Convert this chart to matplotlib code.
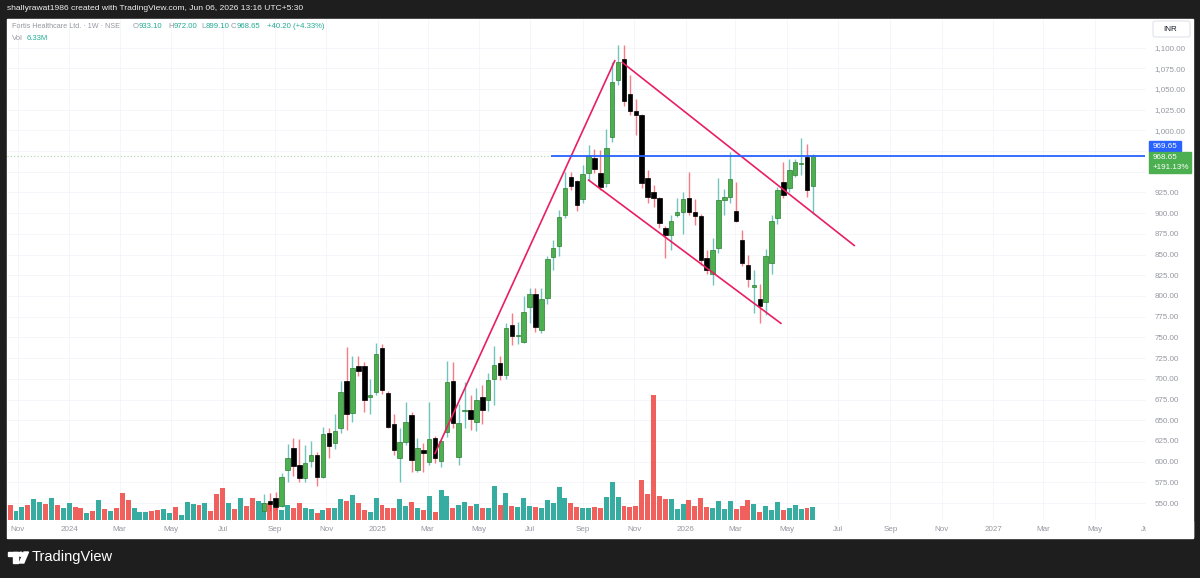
import matplotlib
matplotlib.use('Agg')
import matplotlib.pyplot as plt
import matplotlib.dates as mdates
import matplotlib.patches as mpatches
from matplotlib.ticker import FuncFormatter
import numpy as np
import pandas as pd

plt.rcParams['font.family'] = ['Liberation Sans', 'DejaVu Sans']

W, H = 1200, 578

# weekly bars (Monday of each week)
dates = pd.date_range('2023-10-23', '2026-06-01', freq='W-MON')

# volume in millions, one per week
volume = [7.5, 4.7, 6.5, 7.5, 10.5, 9.0, 8.0, 11.1, 7.5, 5.8,
          8.3, 6.6, 5.8, 3.7, 4.3, 9.8, 5.3, 4.3, 6.1, 13.5,
          9.8, 6.1, 4.0, 4.0, 4.7, 5.0, 5.3, 3.7, 6.6, 2.7,
          9.0, 8.0, 7.5, 8.3, 4.7, 13.1, 16.1, 8.3, 5.3, 11.1,
          7.1, 10.8, 9.3,
          8.6, 8.6, 6.1, 5.0, 7.5, 6.1, 8.3, 6.1, 5.3, 3.7,
          5.0, 5.8, 5.8, 10.5, 9.6, 12.5, 8.3, 4.8, 4.2, 11.1,
          7.5, 6.1, 5.8, 10.5, 7.1, 8.8, 6.1, 4.8, 12.1, 4.2,
          15.0, 12.1, 5.8, 7.5, 9.1, 7.1, 8.0,
          6.1, 6.1, 17.0, 7.5, 13.3, 7.1, 6.5, 11.1, 6.8, 6.5, 6.1, 10.1,
          8.3, 16.6, 11.1, 8.3, 6.6, 5.8, 6.1, 6.3, 6.1, 11.3,
          19.1, 11.3, 7.1, 6.6, 7.1, 19.9, 12.8, 62.6, 12.0, 10.5,
          10.5, 5.5, 8.1, 9.8, 6.8, 11.1, 6.5, 6.1, 9.5, 5.5,
          9.5, 5.5, 6.8, 9.8, 8.1, 4.2, 7.1, 5.1, 8.8, 4.8,
          5.8, 7.5, 5.5, 6.1, 6.33]

# up/down of the early weeks whose candles sit below the visible price range
early_dir = "dttdttdtdttddtdtdtdddtttddttdtttdtdddtdtddt"

# OHLC of the weeks from 2024-08-19 on
opens = [540, 552, 556, 547, 590, 617, 596, 580, 601, 608,
         581, 634, 622, 640, 697, 659, 715, 715, 678, 684,
         737, 683, 646, 604, 624, 656, 590, 614, 600, 629,
         601, 636, 697, 605, 661, 662, 648, 678, 674, 700,
         719, 704, 765, 752, 745, 787, 803, 759, 797, 847,
         860, 898, 944, 939, 917, 948, 967, 949, 936, 992,
         1061, 1086, 1044, 1023, 1019, 942, 926, 918, 882, 874,
         898, 902, 918, 902, 897, 846, 827, 858, 916, 920,
         903, 868, 837, 811, 796, 793, 840, 894, 938, 930,
         946, 959, 968, 933.10]
highs = [561, 562, 563, 586, 621, 628, 627, 620, 625, 612,
         642, 641, 657, 697, 738, 728, 728, 720, 700, 743,
         742, 685, 657, 640, 672, 660, 628, 622, 672, 631,
         626, 722, 720, 669, 696, 680, 689, 692, 707, 740,
         728, 767, 779, 768, 800, 810, 810, 810, 848, 868,
         904, 950, 950, 940, 958, 982, 977, 976, 1002, 1083,
         1103, 1103, 1067, 1038, 1020, 952, 934, 919, 884, 898,
         918, 925, 950, 917, 899, 856, 870, 942, 929, 974,
         938, 880, 849, 831, 814, 857, 898, 932, 962, 966,
         966, 991, 984, 972.00]
lows = [535, 540, 541, 545, 575, 583, 575, 575, 594, 571,
        580, 604, 615, 635, 638, 648, 703, 660, 658, 680,
        682, 640, 608, 575, 620, 588, 588, 588, 596, 598,
        594, 630, 640, 596, 640, 638, 637, 646, 661, 668,
        698, 700, 741, 742, 743, 767, 757, 755, 790, 831,
        848, 894, 928, 903, 912, 940, 949, 928, 932, 986,
        1055, 1030, 1019, 995, 930, 912, 907, 882, 846, 856,
        895, 875, 898, 886, 838, 827, 813, 852, 898, 912,
        889, 836, 811, 779, 767, 777, 827, 887, 918, 926,
        944, 946, 920, 899.10]
closes = [550, 549, 545, 582, 604, 595, 580, 598, 608, 581,
          633, 619, 637, 684, 657, 713, 710, 675, 680, 730,
          686, 642, 614, 624, 648, 602, 617, 611, 627, 604,
          625, 696, 647, 647, 662, 652, 675, 662, 699, 717,
          705, 761, 752, 753, 781, 803, 763, 796, 845, 858,
          896, 931, 933, 910, 947, 969, 953, 932, 979, 1059,
          1083, 1036, 1023, 1019, 936, 920, 918, 888, 874, 890,
          902, 917, 902, 897, 844, 831, 855, 916, 920, 941,
          891, 840, 821, 813, 788, 848, 890, 928, 922, 952,
          962, 961, 928.45, 968.65]

# drawn trend lines ((date, price), (date, price))
trend_lines = [(('2025-03-10', 610), ('2025-10-09', 1084)),
               (('2025-10-18', 1082), ('2026-07-20', 861)),
               (('2025-09-08', 940), ('2026-04-24', 767))]
level_price = 969.65
level_start = '2025-07-26'
last_price = 968.65

UP, DOWN = '#4caf50', '#000000'
UP_WICK, DOWN_WICK = '#26a69a', '#f23645'
VOL_UP, VOL_DOWN = '#26a69a', '#ef5350'
PINK = '#e91e63'
GRAY = '#9598a1'
TEAL = '#22ab94'


def rect(x0, y0, x1, y1):
    return [x0 / W, 1 - y1 / H, (x1 - x0) / W, (y1 - y0) / H]


fig = plt.figure(figsize=(W / 100, H / 100), dpi=100, facecolor='#1e1e1e')

bg = fig.add_axes([0, 0, 1, 1], zorder=0)
bg.set_xlim(0, W)
bg.set_ylim(H, 0)
bg.axis('off')
bg.add_patch(mpatches.Rectangle((6.5, 19), 1193 - 6.5, 538 - 19, color='white'))

plot_rect = rect(6.5, 19, 1146, 520)
ax_grid = fig.add_axes(plot_rect, zorder=1)
ax_vol = fig.add_axes(plot_rect, zorder=2, sharex=ax_grid)
ax = fig.add_axes(plot_rect, zorder=3, sharex=ax_grid, sharey=ax_grid)
for a in (ax_grid, ax_vol, ax):
    a.set_facecolor('none')
    for s in a.spines.values():
        s.set_visible(False)

x_all = mdates.date2num(dates)
n_early = len(early_dir)
x_vis = x_all[n_early:]
o, h, l, c = (np.array(v, dtype=float) for v in (opens, highs, lows, closes))
up = c >= o

# volume
vol_up = [d == 't' for d in early_dir] + list(up)
ax_vol.bar(x_all, volume, width=5.9, color=[VOL_UP if u else VOL_DOWN for u in vol_up],
           alpha=0.92, linewidth=0)
ax_vol.set_ylim(0, 250)
ax_vol.set_yticks([])
ax_vol.tick_params(axis='x', length=0, labelbottom=False)

# candles
ax.vlines(x_vis, l, h, colors=[UP_WICK if u else DOWN_WICK for u in up], lw=1.0, alpha=0.65, zorder=2)
body_lo = np.minimum(o, c)
body_h = np.maximum(np.abs(c - o), 1.2)
ax.bar(x_vis, body_h, bottom=body_lo, width=5.3,
       color=[UP if u else DOWN for u in up],
       edgecolor=['#2e7d32' if u else '#000000' for u in up], linewidth=0.5, zorder=3)

# lines
for (d0, p0), (d1, p1) in trend_lines:
    ax.plot(mdates.date2num(pd.to_datetime([d0, d1])), [p0, p1], color=PINK, lw=1.2, zorder=4)

xmin = mdates.date2num(pd.Timestamp('2025-01-01')) + (6.5 - 378) / 0.8438
xmax = mdates.date2num(pd.Timestamp('2025-01-01')) + (1146 - 378) / 0.8438
ax.axhline(last_price, color='#81c784', lw=0.8, ls=(0, (1, 2)), alpha=0.7, zorder=1)
ax.hlines(level_price, mdates.date2num(pd.Timestamp(level_start)), xmax, color='#2962ff', lw=1.3, zorder=5)

ax.set_xlim(xmin, xmax)
ax.set_ylim(529.5, 1134.5)

# axes ticks
months = pd.date_range('2023-11-01', '2027-07-01', freq='2MS')
ax.set_xticks(mdates.date2num(months))
ax.set_xticklabels([str(m.year) if m.month == 1 else m.strftime('%b') for m in months])
ax.set_yticks(np.arange(550, 1101, 25))
ax.yaxis.set_major_formatter(FuncFormatter(lambda v, p: f'{v:,.2f}'))
ax.yaxis.tick_right()
ax.tick_params(axis='y', length=0, pad=6, labelsize=5.8, labelcolor=GRAY)
ax.tick_params(axis='x', length=0, pad=4, labelsize=5.8, labelcolor=GRAY)

ax_grid.grid(True, color='#f4f5f8', lw=0.6)
ax_grid.tick_params(length=0, labelbottom=False, labelleft=False, labelright=False)

# overlay texts and labels (figure pixel coordinates)
ov = fig.add_axes([0, 0, 1, 1], zorder=10)
ov.set_xlim(0, W)
ov.set_ylim(H, 0)
ov.axis('off')

ov.text(7, 9, 'shallyrawat1986 created with TradingView.com, Jun 06, 2026 13:16 UTC+5:30',
        color='#f0f0f0', fontsize=6.1, va='center', ha='left')

ov.text(12, 27, 'Fortis Healthcare Ltd. · 1W · NSE', color=GRAY, fontsize=5.2, va='center')
for xx, key, val in [(133, 'O', '933.10'), (168, 'H', '972.00'), (201, 'L', '899.10'), (231, 'C', '968.65')]:
    t = ov.text(xx, 27, key, color=GRAY, fontsize=5.6, va='center')
    ov.annotate(val, xy=(1, 0.5), xycoords=t, va='center', ha='left', color=TEAL, fontsize=5.6)
ov.text(267, 27, '+40.20 (+4.33%)', color=TEAL, fontsize=5.6, va='center')
ov.text(12, 39, 'Vol', color=GRAY, fontsize=5.6, va='center')
ov.text(27, 39, '6.33M', color=TEAL, fontsize=5.6, va='center')

# cover the clipped part of the last date label
ov.add_patch(mpatches.Rectangle((1145.5, 521), 1193 - 1145.5, 16, color='white', zorder=1))

ov.add_patch(mpatches.FancyBboxPatch((1153, 21), 37, 16, boxstyle='round,pad=0,rounding_size=2',
                                     facecolor='white', edgecolor='#e0e3eb', lw=0.8, zorder=2))
ov.text(1163, 29.5, 'INR', color='#131722', fontsize=5.8, va='center', zorder=3)

ov.add_patch(mpatches.Rectangle((1149, 141), 32, 10.5, color='#2962ff', zorder=2))
ov.text(1165, 146.3, f'{level_price:.2f}', color='white', fontsize=5.8, va='center', ha='center', zorder=3)
ov.add_patch(mpatches.Rectangle((1149, 152), 42, 21, color='#4caf50', zorder=2))
ov.text(1153, 157.5, f'{last_price:.2f}', color='white', fontsize=5.8, va='center', zorder=3)
ov.text(1153, 167.5, '+191.13%', color='white', fontsize=5.8, va='center', zorder=3)

# TradingView logo
ov.add_patch(mpatches.Rectangle((8, 552), 9.5, 4.2, color='white'))
ov.add_patch(mpatches.Rectangle((13.3, 552), 4.2, 11, color='white'))
ov.add_patch(mpatches.Circle((20.8, 554.2), 2.0, color='white'))
ov.add_patch(mpatches.Polygon([(24.0, 552), (28.5, 552), (23.8, 563), (19.3, 563)], color='white'))
ov.text(32, 557.5, 'TradingView', color='white', fontsize=10.5, va='center', ha='left')

fig.savefig('out.png', dpi=100, facecolor=fig.get_facecolor())
